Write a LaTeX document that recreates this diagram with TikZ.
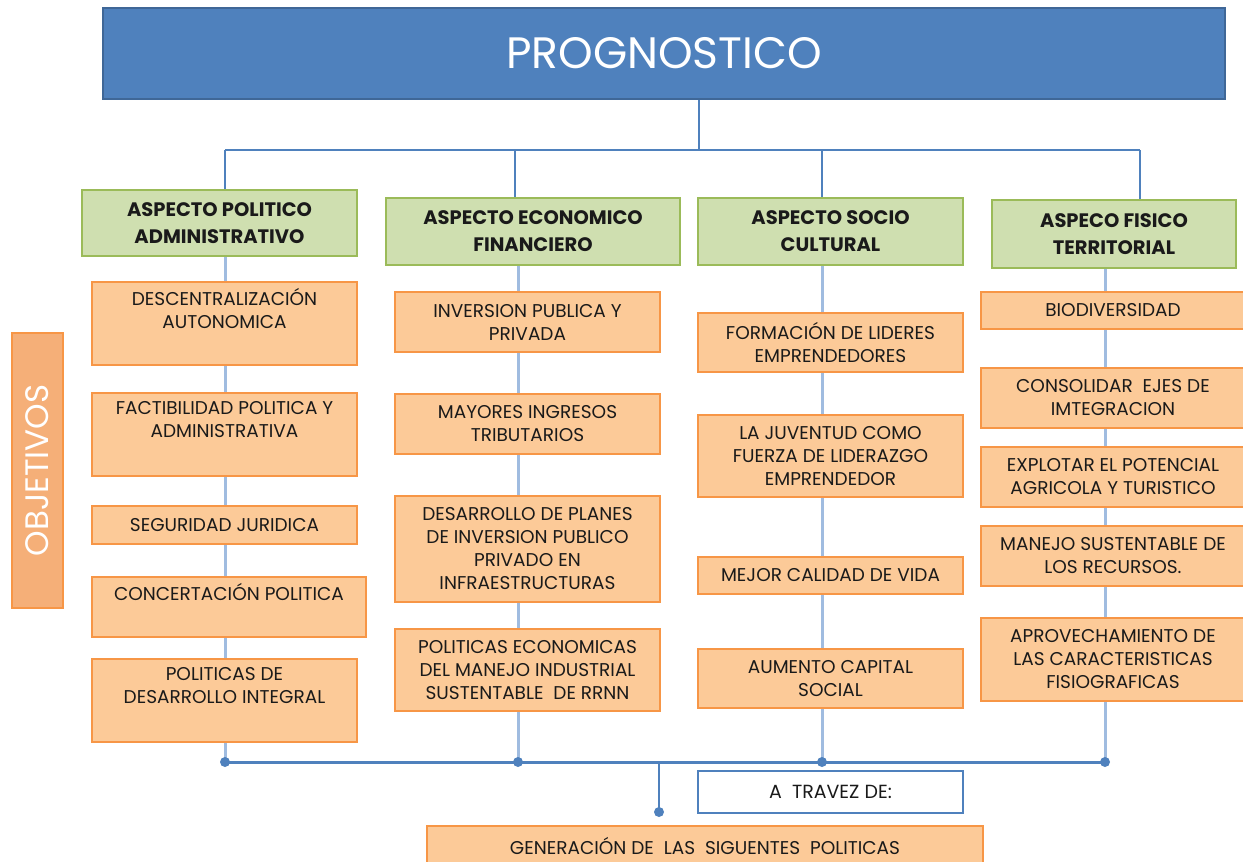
\documentclass[tikz,border=0pt]{standalone}
\usepackage{fontspec}
\setmainfont{Poppins}
\usetikzlibrary{backgrounds}
\definecolor{tblue}{HTML}{4F81BD}
\definecolor{tborder}{HTML}{3F6797}
\definecolor{gfill}{HTML}{CFDFB0}
\definecolor{gborder}{HTML}{9BBB59}
\definecolor{ofill}{HTML}{FCCA98}
\definecolor{oborder}{HTML}{F79646}
\definecolor{objfill}{HTML}{F5AF78}
\definecolor{lblue}{HTML}{A0BCE0}
\definecolor{txt}{HTML}{1A1A1A}
\tikzset{
  obox/.style={draw=oborder, fill=ofill, line width=2.5pt, align=center, inner sep=0pt,
    text=txt, font=\fontsize{18.5}{23}\selectfont},
  gbox/.style={draw=gborder, fill=gfill, line width=2.5pt, align=center, inner sep=0pt,
    text=txt, font=\bfseries\fontsize{19.5}{27}\selectfont},
  colline/.style={draw=lblue, line width=3pt},
  topline/.style={draw=tblue, line width=1.5pt},
  busline/.style={draw=tblue, line width=3pt},
  dot/.style={fill=tblue}
}
\begin{document}
\begin{tikzpicture}[x=1pt,y=-1pt]
\useasboundingbox (0,0) rectangle (1243,862);

% title
\node[draw=tborder, fill=tblue, line width=2.5pt, minimum width=1122, minimum height=91,
  text=white, font=\fontsize{44}{44}\selectfont] (title) at (664,53.5) {PROGNOSTICO};

% objetivos
\node[draw=oborder, fill=objfill, line width=2.5pt, minimum width=51, minimum height=275,
  inner sep=0pt] (obj) at (37.5,470.5) {};
\node[rotate=90, text=white, font=\fontsize{32.5}{32.5}\selectfont] (objtxt) at (obj.center) {OBJETIVOS};

% headers
\node[gbox, minimum width=275, minimum height=66] (g1) at (219.5,223) {ASPECTO POLITICO\\ADMINISTRATIVO};
\node[gbox, minimum width=294, minimum height=67] (g2) at (533,231.5) {ASPECTO ECONOMICO\\FINANCIERO};
\node[gbox, minimum width=265, minimum height=67] (g3) at (830.5,231.5) {ASPECTO SOCIO\\CULTURAL};
\node[gbox, minimum width=244, minimum height=68] (g4) at (1114,234) {ASPECO FISICO\\TERRITORIAL};

% column 1
\node[obox, minimum width=265, minimum height=83] (p1) at (224.5,323.5) {DESCENTRALIZACIÓN\\AUTONOMICA\\\strut};
\node[obox, minimum width=265, minimum height=83] (p2) at (224.5,434.5) {FACTIBILIDAD POLITICA Y\\ADMINISTRATIVA\\\strut};
\node[obox, minimum width=265, minimum height=38] (p3) at (224.5,525) {SEGURIDAD JURIDICA};
\node[obox, minimum width=274, minimum height=60] (p4) at (229,607) {CONCERTACIÓN POLITICA\\\strut};
\node[obox, minimum width=265, minimum height=83] (p5) at (224.5,700.5) {POLITICAS DE\\DESARROLLO INTEGRAL\\\strut};

% column 2
\node[obox, minimum width=265, minimum height=60] (e1) at (527.5,322) {INVERSION PUBLICA Y\\PRIVADA};
\node[obox, minimum width=265, minimum height=60] (e2) at (527.5,424) {MAYORES INGRESOS\\TRIBUTARIOS};
\node[obox, minimum width=265, minimum height=106] (e3) at (527.5,549) {DESARROLLO DE PLANES\\DE INVERSION PUBLICO\\PRIVADO EN\\INFRAESTRUCTURAS};
\node[obox, minimum width=265, minimum height=82] (e4) at (527.5,670) {POLITICAS ECONOMICAS\\DEL MANEJO INDUSTRIAL\\SUSTENTABLE\ \ DE RRNN};

% column 3
\node[obox, minimum width=265, minimum height=59] (s1) at (830.5,342.5) {FORMACIÓN DE LIDERES\\EMPRENDEDORES};
\node[obox, minimum width=265, minimum height=82] (s2) at (830.5,456) {LA JUVENTUD COMO\\FUERZA DE LIDERAZGO\\EMPRENDEDOR};
\node[obox, minimum width=265, minimum height=37] (s3) at (830.5,575.5) {MEJOR CALIDAD DE VIDA};
\node[obox, minimum width=265, minimum height=59] (s4) at (830.5,678.5) {AUMENTO CAPITAL\\SOCIAL};

% column 4
\node[obox, minimum width=264, minimum height=37] (f1) at (1113,310.5) {BIODIVERSIDAD};
\node[obox, minimum width=264, minimum height=60] (f2) at (1113,398) {CONSOLIDAR\ \ EJES DE\\IMTEGRACION};
\node[obox, minimum width=264, minimum height=60] (f3) at (1113,477) {EXPLOTAR EL POTENCIAL\\AGRICOLA Y TURISTICO};
\node[obox, minimum width=264, minimum height=60] (f4) at (1113,556) {MANEJO SUSTENTABLE DE\\LOS RECURSOS.};
\node[obox, minimum width=264, minimum height=83] (f5) at (1113,659.5) {APROVECHAMIENTO DE\\LAS CARACTERISTICAS\\FISIOGRAFICAS};

% bottom
\node[draw=tblue, fill=white, line width=2.5pt, minimum width=265, minimum height=42,
  text=txt, font=\fontsize{19}{20}\selectfont] (via) at (830.5,792) {A\hspace{10pt}TRAVEZ DE:};
\node[obox, minimum width=556, minimum height=40] (gen) at (705,846) {GENERACIÓN DE\ \ LAS\ \ SIGUENTES\ \ POLITICAS};

% coordinates
\coordinate (t0) at (699,150);
\coordinate (t1) at (225,150);
\coordinate (t2) at (515,150);
\coordinate (t3) at (822,150);
\coordinate (t4) at (1140,150);
\coordinate (b1) at (225,762);
\coordinate (b2) at (518,762);
\coordinate (b3) at (822,762);
\coordinate (b4) at (1105,762);
\coordinate (bm) at (659,762);
\coordinate (bd) at (659,812);

\begin{scope}[on background layer]
  \draw[topline] (title.south -| t0) -- (t0);
  \draw[topline] (t1) -- (t4);
  \draw[topline] (t1) -- (g1.north -| t1);
  \draw[topline] (t2) -- (g2.north -| t2);
  \draw[topline] (t3) -- (g3.north -| t3);
  \draw[topline] (t4) -- (g4.north -| t4);
  \draw[colline] (g1.south -| b1) -- (b1);
  \draw[colline] (g2.south -| b2) -- (b2);
  \draw[colline] (g3.south -| b3) -- (b3);
  \draw[colline] (g4.south -| b4) -- (b4);
\end{scope}
\draw[busline] (b1) -- (b4);
\draw[topline] (bm) -- (bd);
\foreach \p in {b1,b2,b3,b4,bd} \fill[dot] (\p) circle (5);
\end{tikzpicture}
\end{document}
